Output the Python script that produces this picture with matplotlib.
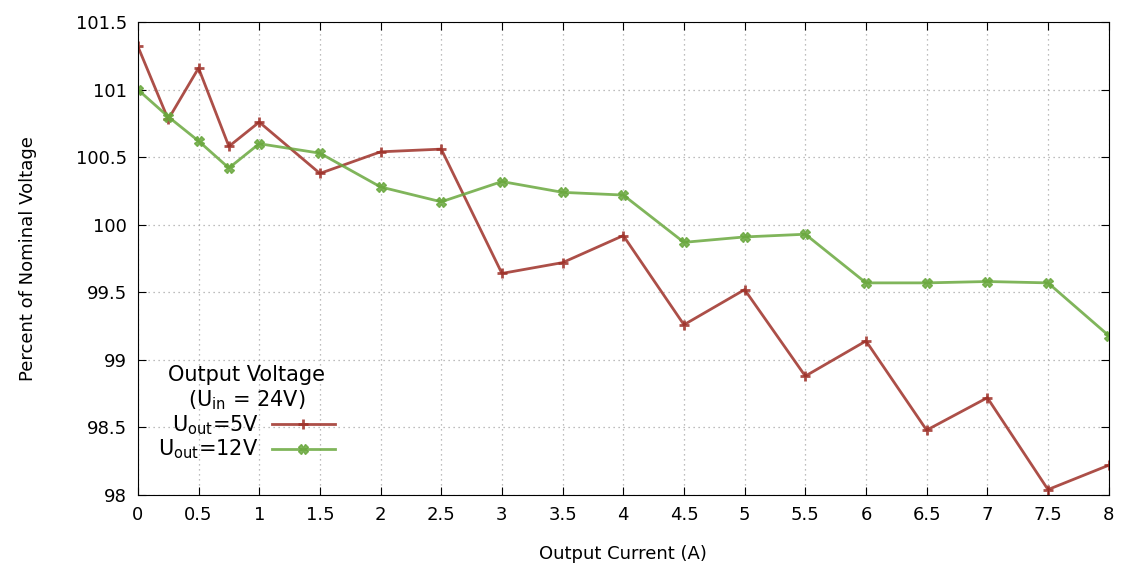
import numpy as np
import matplotlib.pyplot as plt

# output current (A)
current = [0, 0.25, 0.5, 0.75, 1, 1.5, 2, 2.5, 3, 3.5, 4, 4.5, 5, 5.5, 6, 6.5, 7, 7.5, 8]

# percent of nominal voltage
u5 = [101.32, 100.78, 101.16, 100.58, 100.76, 100.38, 100.54, 100.56, 99.64, 99.72,
      99.92, 99.26, 99.52, 98.88, 99.14, 98.48, 98.72, 98.04, 98.22]
u12 = [101.0, 100.80, 100.62, 100.42, 100.60, 100.53, 100.28, 100.17, 100.32, 100.24,
       100.22, 99.87, 99.91, 99.93, 99.57, 99.57, 99.58, 99.57, 99.18]

xticks = np.arange(0, 8.01, 0.5)
yticks = np.arange(98, 101.51, 0.5)
xticklabels = ['0', '0.5', '1', '1.5', '2', '2.5', '3', '3.5', '4', '4.5', '5',
               '5.5', '6', '6.5', '7', '7.5', '8']
yticklabels = ['98', '98.5', '99', '99.5', '100', '100.5', '101', '101.5']

fig = plt.figure(figsize=(11.21, 5.67), dpi=100)
ax = fig.add_axes([0.123, 0.127, 0.866, 0.834])

ax.plot(current, u5, color='#9e3028', lw=2, alpha=0.85, marker='+', ms=7, mew=2,
        label='U$_{\\mathrm{out}}$=5V')
ax.plot(current, u12, color='#6aa83e', lw=2, alpha=0.85, marker='X', ms=7, mew=1,
        label='U$_{\\mathrm{out}}$=12V')

ax.set_xlim(0, 8)
ax.set_ylim(98, 101.5)
ax.set_xticks(xticks)
ax.set_xticklabels(xticklabels)
ax.set_yticks(yticks)
ax.set_yticklabels(yticklabels)
ax.tick_params(direction='in', top=True, right=True, labelsize=13, length=6, pad=8)
ax.grid(True, color='#a8a8a8', linestyle=(0, (1, 3)), lw=0.9)

ax.set_xlabel('Output Current (A)', fontsize=13, labelpad=15)
ax.set_ylabel('Percent of Nominal Voltage', fontsize=13, labelpad=28)

leg = ax.legend(title='Output Voltage\n(U$_{\\mathrm{in}}$ = 24V)', loc='lower left',
                bbox_to_anchor=(0.006, 0.04), frameon=False, markerfirst=False,
                fontsize=15, title_fontsize=15, handlelength=3.0, labelspacing=0.05,
                borderpad=0.2, handletextpad=0.65)
leg.get_title().set_multialignment('center')
leg._legend_box.align = 'center'

fig.savefig('out.png', dpi=100)
